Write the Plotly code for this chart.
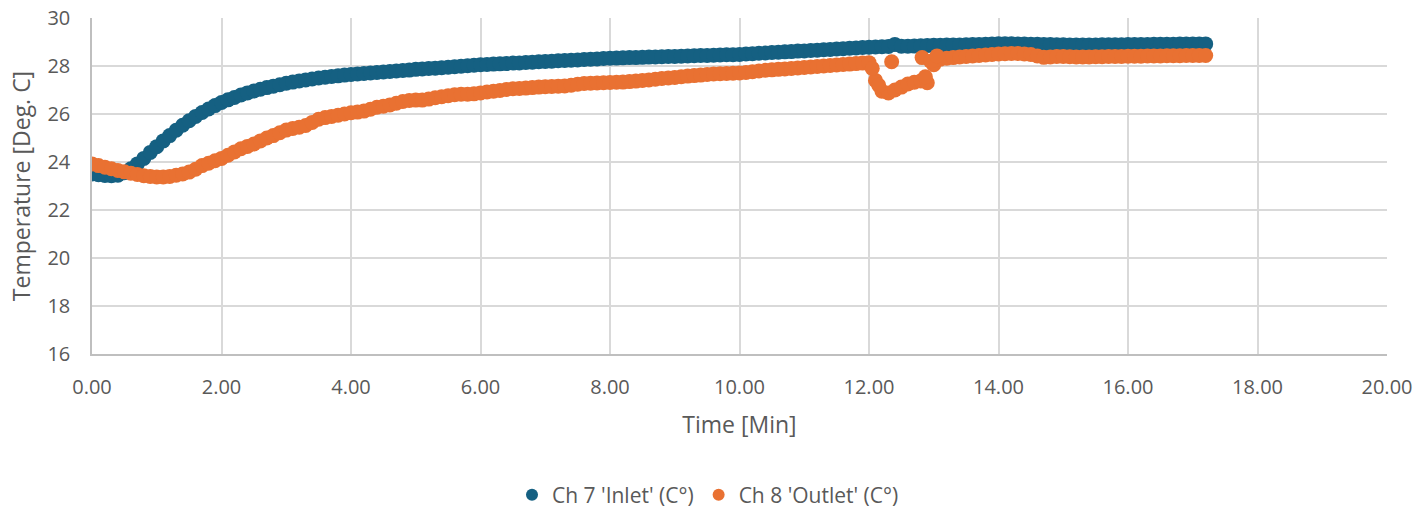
import plotly.graph_objects as go

# Sample times [min], logged every 0.1 min
time_min = [round(i * 0.1, 1) for i in range(173)]

# Ch 7 'Inlet' temperature [deg C]
inlet = [
    23.50, 23.47, 23.44, 23.43, 23.45, 23.55, 23.72, 23.92, 24.15, 24.40,
    24.64, 24.88, 25.10, 25.32, 25.53, 25.72, 25.90, 26.06, 26.21, 26.35,
    26.48, 26.59, 26.69, 26.79, 26.88, 26.96, 27.03, 27.10, 27.16, 27.22,
    27.28, 27.33, 27.38, 27.42, 27.46, 27.50, 27.53, 27.56, 27.59, 27.62,
    27.65, 27.67, 27.69, 27.71, 27.73, 27.75, 27.77, 27.79, 27.81, 27.83,
    27.86, 27.88, 27.90, 27.91, 27.93, 27.95, 27.97, 27.99, 28.01, 28.03,
    28.05, 28.06, 28.08, 28.09, 28.10, 28.12, 28.13, 28.15, 28.16, 28.18,
    28.19, 28.20, 28.22, 28.23, 28.24, 28.25, 28.27, 28.28, 28.29, 28.31,
    28.32, 28.33, 28.34, 28.35, 28.35, 28.36, 28.37, 28.38, 28.39, 28.40,
    28.40, 28.41, 28.42, 28.43, 28.44, 28.44, 28.45, 28.46, 28.47, 28.47,
    28.48, 28.50, 28.51, 28.53, 28.54, 28.56, 28.57, 28.59, 28.60, 28.62,
    28.63, 28.65, 28.66, 28.68, 28.69, 28.71, 28.72, 28.74, 28.75, 28.77,
    28.78, 28.79, 28.80, 28.81, 28.90, 28.82, 28.82, 28.83, 28.84, 28.85,
    28.86, 28.86, 28.87, 28.88, 28.88, 28.89, 28.90, 28.90, 28.91, 28.92,
    28.93, 28.93, 28.93, 28.92, 28.92, 28.91, 28.91, 28.90, 28.90, 28.89,
    28.89, 28.88, 28.88, 28.88, 28.88, 28.88, 28.89, 28.89, 28.89, 28.89,
    28.90, 28.90, 28.90, 28.90, 28.91, 28.91, 28.91, 28.91, 28.92, 28.92,
    28.92, 28.92, 28.92,
]

# Ch 8 'Outlet' temperature [deg C]
outlet = [
    23.92, 23.85, 23.78, 23.72, 23.65, 23.59, 23.53, 23.48, 23.43, 23.40,
    23.38, 23.38, 23.40, 23.45, 23.50, 23.58, 23.70, 23.85, 23.95, 24.05,
    24.15, 24.28, 24.42, 24.55, 24.65, 24.75, 24.88, 25.00, 25.10, 25.22,
    25.33, 25.40, 25.45, 25.52, 25.65, 25.78, 25.85, 25.90, 25.95, 26.00,
    26.05, 26.08, 26.12, 26.20, 26.28, 26.32, 26.38, 26.45, 26.52, 26.56,
    26.58, 26.58, 26.62, 26.68, 26.72, 26.76, 26.80, 26.82, 26.82, 26.84,
    26.88, 26.92, 26.95, 26.98, 27.02, 27.05, 27.06, 27.08, 27.10, 27.12,
    27.14, 27.15, 27.16, 27.17, 27.20, 27.24, 27.27, 27.28, 27.29, 27.30,
    27.31, 27.32, 27.33, 27.35, 27.37, 27.40, 27.42, 27.45, 27.48, 27.50,
    27.52, 27.55, 27.58, 27.60, 27.62, 27.65, 27.67, 27.68, 27.69, 27.70,
    27.71, 27.73, 27.76, 27.79, 27.82, 27.84, 27.86, 27.88, 27.90, 27.92,
    27.94, 27.96, 27.98, 28.00, 28.02, 28.04, 28.06, 28.08, 28.10, 28.12,
    28.14, 27.40, 26.95, 26.88, 27.00, 27.12, 27.25, 27.32, 27.38, 27.30,
    28.05, 28.28, 28.32, 28.35, 28.38, 28.40, 28.42, 28.44, 28.46, 28.48,
    28.50, 28.51, 28.52, 28.52, 28.50, 28.48, 28.42, 28.36, 28.38, 28.40,
    28.40, 28.39, 28.38, 28.38, 28.38, 28.39, 28.39, 28.40, 28.40, 28.40,
    28.41, 28.41, 28.41, 28.42, 28.42, 28.42, 28.43, 28.43, 28.43, 28.44,
    28.44, 28.44, 28.44,
]

# Outlet readings logged between the regular samples during the disturbance
outlet_extra_t = [12.05, 12.15, 12.35, 12.82, 12.87, 12.95, 13.05]
outlet_extra_v = [27.90, 27.20, 28.18, 28.35, 27.55, 28.20, 28.42]

outlet_t = time_min + outlet_extra_t
outlet_v = outlet + outlet_extra_v

BLUE = "#156082"
ORANGE = "#E97132"
TEXT = "#595959"
GRID = "#D9D9D9"
FONT = "Open Sans, Liberation Sans, sans-serif"

fig = go.Figure()
fig.add_trace(go.Scatter(
    x=time_min, y=inlet, mode="markers", name="Ch 7 'Inlet' (C°)",
    marker=dict(color=BLUE, size=15, line=dict(width=0)),
))
fig.add_trace(go.Scatter(
    x=outlet_t, y=outlet_v, mode="markers", name="Ch 8 'Outlet' (C°)",
    marker=dict(color=ORANGE, size=15, line=dict(width=0)),
))

fig.update_layout(
    width=1416, height=509,
    margin=dict(l=92, r=29, t=18, b=155, autoexpand=False),
    paper_bgcolor="white", plot_bgcolor="white",
    font=dict(family=FONT, size=20, color=TEXT),
    showlegend=True,
    legend=dict(
        orientation="h", x=0.5, xanchor="center", xref="container",
        y=14 / 509, yanchor="middle", yref="container",
        font=dict(size=21, color=TEXT), itemsizing="constant",
    ),
)
fig.update_xaxes(
    range=[0, 20], dtick=2, tick0=0, tickformat=".2f",
    showgrid=True, gridcolor=GRID, gridwidth=1.5,
    showline=True, linecolor="#BFBFBF", linewidth=1.5,
    zeroline=False, ticks="", ticklabelstandoff=14,
    title=dict(text="Time [Min]", font=dict(size=23, color=TEXT), standoff=18),
    tickfont=dict(size=20, color=TEXT),
)
fig.update_yaxes(
    range=[16, 30], dtick=2, tick0=16,
    showgrid=True, gridcolor=GRID, gridwidth=1.5,
    showline=True, linecolor="#BFBFBF", linewidth=1.5,
    zeroline=False, ticks="", ticklabelstandoff=16,
    title=dict(text="Temperature [Deg. C]", font=dict(size=23, color=TEXT), standoff=10),
    tickfont=dict(size=20, color=TEXT),
)

fig.write_html("out.html")
